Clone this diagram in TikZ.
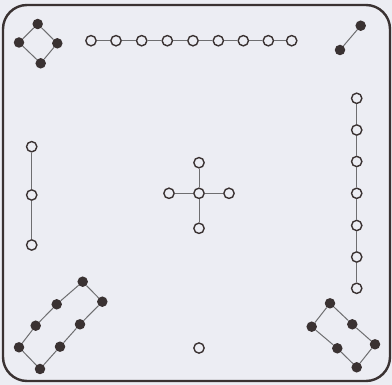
\documentclass[tikz,border=0pt]{standalone}
\usepackage{xcolor}
\usepackage{tikz}

\definecolor{paper}{RGB}{236,237,243}
\definecolor{ink}{RGB}{58,50,50}
\definecolor{wire}{RGB}{110,110,112}

\tikzset{
  dot/.style={circle,fill=ink,inner sep=0pt,minimum size=10.5pt},
  ring/.style={circle,draw=ink,line width=1.4pt,fill=paper,inner sep=0pt,minimum size=10.3pt},
  link/.style={draw=wire,line width=1pt}
}

\begin{document}
\begin{tikzpicture}[x=1pt,y=-1pt]
\useasboundingbox (0,0) rectangle (392,385);
\fill[paper] (0,0) rectangle (392,385);
\draw[ink,line width=2.4pt,rounded corners=24pt] (3,5) rectangle (390,381);

% top left diamond
\node[dot] (d1) at (37.7,24) {};
\node[dot] (d2) at (19,42.5) {};
\node[dot] (d3) at (57.3,43.3) {};
\node[dot] (d4) at (40.7,63.3) {};
\draw[link] (d1) -- (d2) -- (d4) -- (d3) -- (d1);

% top row
\foreach \i/\x in {1/91,2/116,3/141.7,4/167.3,5/193,6/218.3,7/243.3,8/268.3,9/291.7}
  \node[ring] (t\i) at (\x,40.7) {};
\foreach \i [count=\j from 2] in {1,...,8}
  \draw[link] (t\i) -- (t\j);

% top right pair
\node[dot] (p1) at (360.7,25.7) {};
\node[dot] (p2) at (340,50) {};
\draw[link] (p1) -- (p2);

% right column
\foreach \i/\y in {1/98.3,2/130,3/161.5,4/193.3,5/225.5,6/257,7/288.3}
  \node[ring] (r\i) at (356.7,\y) {};
\foreach \i [count=\j from 2] in {1,...,6}
  \draw[link] (r\i) -- (r\j);

% left column
\node[ring] (l1) at (31.7,146.7) {};
\node[ring] (l2) at (31.7,195) {};
\node[ring] (l3) at (31.7,245) {};
\draw[link] (l1) -- (l2) -- (l3);

% centre cross
\node[ring] (c0) at (199,193.3) {};
\node[ring] (c1) at (199,162.7) {};
\node[ring] (c2) at (229,193.3) {};
\node[ring] (c3) at (199,228.3) {};
\node[ring] (c4) at (169,193.3) {};
\draw[link] (c0) -- (c1);
\draw[link] (c0) -- (c2);
\draw[link] (c0) -- (c3);
\draw[link] (c0) -- (c4);

% bottom single
\node[ring] (s) at (199,348) {};

% bottom left loop
\node[dot] (a1) at (82.7,281.7) {};
\node[dot] (a2) at (56.7,304.3) {};
\node[dot] (a3) at (35.7,325.7) {};
\node[dot] (a4) at (19,347.3) {};
\node[dot] (a5) at (40,369) {};
\node[dot] (a6) at (60,346.7) {};
\node[dot] (a7) at (80,324.3) {};
\node[dot] (a8) at (102.3,301.7) {};
\draw[link] (a1) -- (a2) -- (a3) -- (a4) -- (a5) -- (a6) -- (a7) -- (a8) -- (a1);

% bottom right loop
\node[dot] (b1) at (330,303.3) {};
\node[dot] (b2) at (311.7,326.7) {};
\node[dot] (b3) at (337.3,348.3) {};
\node[dot] (b4) at (356.7,367.3) {};
\node[dot] (b5) at (375,344.3) {};
\node[dot] (b6) at (352.3,324.3) {};
\draw[link] (b1) -- (b2) -- (b3) -- (b4) -- (b5) -- (b6) -- (b1);
\end{tikzpicture}
\end{document}
